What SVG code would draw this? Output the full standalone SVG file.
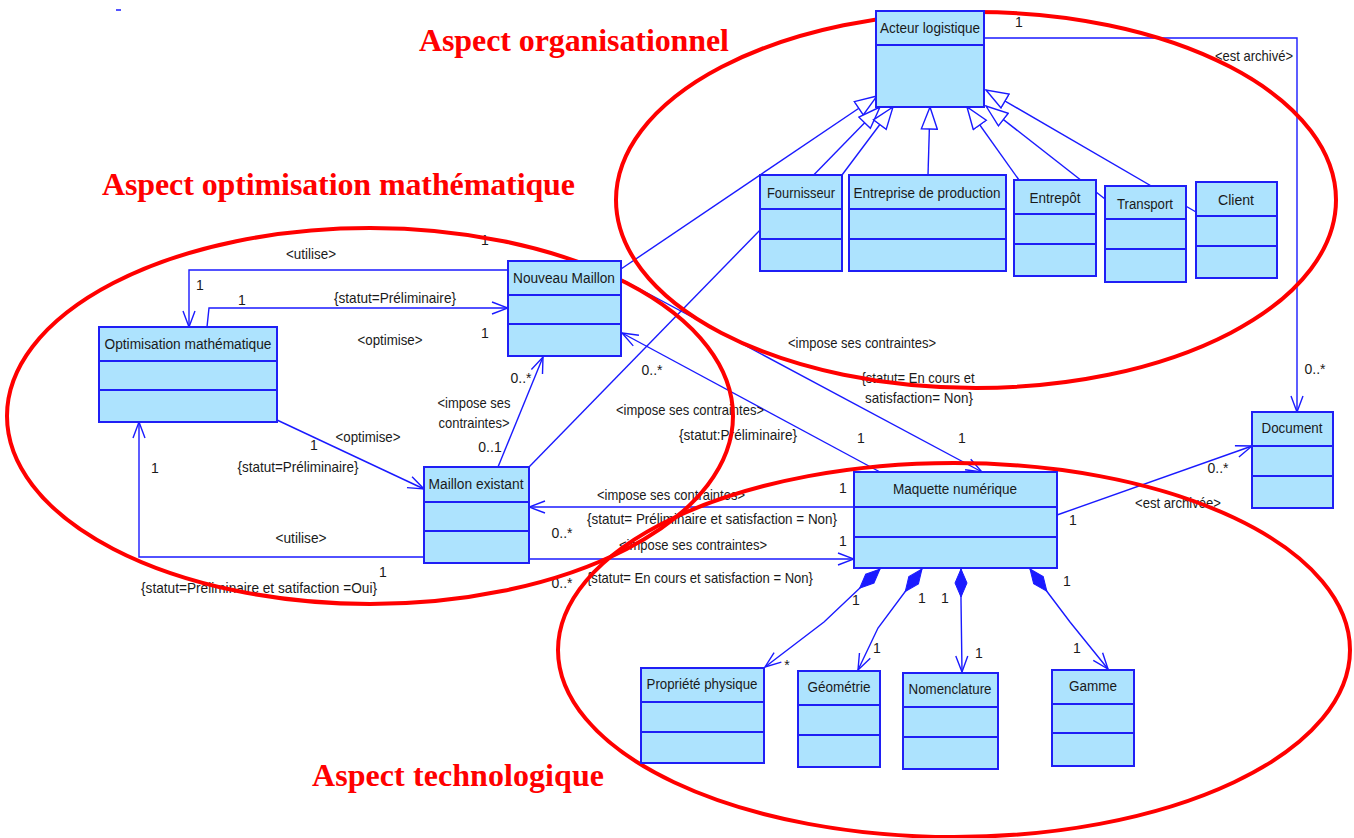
<svg xmlns="http://www.w3.org/2000/svg" width="1354" height="838" viewBox="0 0 1354 838">
<style>
.box{fill:#ade3fe;stroke:#1f1ff5;stroke-width:2}
.dv{stroke:#1f1ff5;stroke-width:2}
.nl{font-family:"Liberation Sans",Arial,sans-serif;font-size:15.5px;fill:#1a1a1a;text-anchor:middle}
.cl{font-family:"Liberation Sans",Arial,sans-serif;font-size:14.5px;fill:#1a1a1a;text-anchor:middle}
.n{font-family:"Liberation Sans",Arial,sans-serif;font-size:14px;fill:#1a1a1a;text-anchor:middle}
.c{fill:none;stroke:#1a1aff;stroke-width:1.4}
.ell{fill:none;stroke:#f00;stroke-width:4}
.title{font-family:"Liberation Serif","Times New Roman",serif;font-weight:bold;font-size:32px;fill:#f00}
</style>
<defs>
<marker id="arr" viewBox="-17 -7 18 14" refX="0" refY="0" markerWidth="18" markerHeight="14" orient="auto" markerUnits="userSpaceOnUse"><path d="M-16,-6 L0,0 L-16,6" fill="none" stroke="#1a1aff" stroke-width="1.4"/></marker>
<marker id="tri" viewBox="-23 -9 24 18" refX="0" refY="0" markerWidth="24" markerHeight="18" orient="auto" markerUnits="userSpaceOnUse"><path d="M0,0 L-22,-8 L-22,8 Z" fill="#fff" stroke="#1a1aff" stroke-width="1.4"/></marker>
<marker id="dia" viewBox="-1 -8 30 16" refX="0" refY="0" markerWidth="30" markerHeight="16" orient="auto" markerUnits="userSpaceOnUse"><path d="M0,0 L14,-6 L28,0 L14,6 Z" fill="#1a1aff" stroke="#1a1aff" stroke-width="1"/></marker>
</defs>
<rect width="1354" height="838" fill="#fff"/>
<line x1="116" y1="10" x2="121" y2="10" stroke="#1a1aff" stroke-width="1.5"/>

<g id="connectors">
<g class="gen" marker-end="url(#tri)">
<path class="c" d="M621,269 L877,96"/>
<path class="c" d="M529,467 L880,107"/>
<path class="c" d="M842,175 L893,107"/>
<path class="c" d="M928,175 L930,107"/>
<path class="c" d="M1019,180 L967,107"/>
<path class="c" d="M1105,199 L986,106"/>
<path class="c" d="M1196,212 L986,90"/>
</g>
<g class="assoc">
<path class="c" marker-end="url(#arr)" d="M508,270 L189,270 L189,327"/>
<path class="c" marker-end="url(#arr)" d="M207,327 L209,308 L508,308"/>
<path class="c" marker-end="url(#arr)" d="M277,420 L424,489"/>
<path class="c" marker-end="url(#arr)" d="M498,467 L543,357"/>
<path class="c" marker-end="url(#arr)" d="M880,472 L622,333"/>
<path class="c" marker-end="url(#arr)" d="M621,279 L982,472"/>
<path class="c" marker-end="url(#arr)" d="M854,507 L529,507"/>
<path class="c" marker-end="url(#arr)" d="M529,559 L854,559"/>
<path class="c" marker-end="url(#arr)" d="M424,557 L139,557 L139,422"/>
<path class="c" marker-end="url(#arr)" d="M1057,515 L1252,446"/>
<path class="c" marker-end="url(#arr)" d="M984,38 L1297,38 L1297,412"/>
</g>
<g class="comp">
<path class="c" marker-start="url(#dia)" marker-end="url(#arr)" d="M880,569 L824,622 L765,667"/>
<path class="c" marker-start="url(#dia)" marker-end="url(#arr)" d="M922,569 L878,628 L858,670"/>
<path class="c" marker-start="url(#dia)" marker-end="url(#arr)" d="M961,569 L961,600 L962,672"/>
<path class="c" marker-start="url(#dia)" marker-end="url(#arr)" d="M1030,569 L1070,622 L1108,669"/>
</g>
<g class="labels">
<text class="n" x="1019" y="27">1</text>
<text class="cl" x="1254" y="61" textLength="78" lengthAdjust="spacingAndGlyphs">&lt;est archivé&gt;</text>
<text class="n" x="1315" y="374">0..*</text>
<text class="cl" x="311" y="259" textLength="50" lengthAdjust="spacingAndGlyphs">&lt;utilise&gt;</text>
<text class="n" x="485" y="245">1</text>
<text class="n" x="200" y="290">1</text>
<text class="n" x="242" y="305">1</text>
<text class="cl" x="395" y="303" textLength="122" lengthAdjust="spacingAndGlyphs">{statut=Préliminaire}</text>
<text class="n" x="485" y="338">1</text>
<text class="cl" x="390" y="345" textLength="65" lengthAdjust="spacingAndGlyphs">&lt;optimise&gt;</text>
<text class="n" x="521" y="383">0..*</text>
<text class="cl" x="474" y="408" textLength="73" lengthAdjust="spacingAndGlyphs">&lt;impose ses</text>
<text class="cl" x="474" y="428" textLength="71" lengthAdjust="spacingAndGlyphs">contraintes&gt;</text>
<text class="n" x="490" y="452">0..1</text>
<text class="cl" x="368" y="442" textLength="65" lengthAdjust="spacingAndGlyphs">&lt;optimise&gt;</text>
<text class="n" x="314" y="450">1</text>
<text class="cl" x="298" y="472" textLength="121" lengthAdjust="spacingAndGlyphs">{statut=Préliminaire}</text>
<text class="n" x="155" y="473">1</text>
<text class="n" x="652" y="375">0..*</text>
<text class="cl" x="690" y="415" textLength="148" lengthAdjust="spacingAndGlyphs">&lt;impose ses contraintes&gt;</text>
<text class="cl" x="738" y="440" textLength="118" lengthAdjust="spacingAndGlyphs">{statut:Préliminaire}</text>
<text class="cl" x="862" y="348" textLength="148" lengthAdjust="spacingAndGlyphs">&lt;impose ses contraintes&gt;</text>
<text class="cl" x="918" y="383" textLength="113" lengthAdjust="spacingAndGlyphs">{statut= En cours et</text>
<text class="cl" x="919" y="403" textLength="108" lengthAdjust="spacingAndGlyphs">satisfaction= Non}</text>
<text class="n" x="861" y="443">1</text>
<text class="n" x="962" y="443">1</text>
<text class="n" x="843" y="493">1</text>
<text class="cl" x="671" y="500" textLength="148" lengthAdjust="spacingAndGlyphs">&lt;impose ses contraintes&gt;</text>
<text class="cl" x="712" y="524" textLength="250" lengthAdjust="spacingAndGlyphs">{statut= Préliminaire et satisfaction = Non}</text>
<text class="n" x="562" y="538">0..*</text>
<text class="n" x="843" y="546">1</text>
<text class="cl" x="693" y="550" textLength="148" lengthAdjust="spacingAndGlyphs">&lt;impose ses contraintes&gt;</text>
<text class="cl" x="700" y="583" textLength="226" lengthAdjust="spacingAndGlyphs">{statut= En cours et satisfaction = Non}</text>
<text class="n" x="562" y="588">0..*</text>
<text class="cl" x="301" y="543" textLength="51" lengthAdjust="spacingAndGlyphs">&lt;utilise&gt;</text>
<text class="n" x="383" y="577">1</text>
<text class="cl" x="259" y="593" textLength="236" lengthAdjust="spacingAndGlyphs">{statut=Préliminaire et satifaction =Oui}</text>
<text class="n" x="1218" y="473">0..*</text>
<text class="cl" x="1178" y="508" textLength="86" lengthAdjust="spacingAndGlyphs">&lt;est archivée&gt;</text>
<text class="n" x="1073" y="525">1</text>
<text class="n" x="856" y="605">1</text>
<text class="n" x="787" y="670">*</text>
<text class="n" x="922" y="603">1</text>
<text class="n" x="945" y="603">1</text>
<text class="n" x="877" y="653">1</text>
<text class="n" x="979" y="658">1</text>
<text class="n" x="1067" y="586">1</text>
<text class="n" x="1077" y="653">1</text>
</g>
</g>

<g id="regions">
<ellipse class="ell" cx="976" cy="200" rx="360" ry="188"/>
<ellipse class="ell" cx="370" cy="416" rx="363" ry="188"/>
<ellipse class="ell" cx="954" cy="650" rx="396" ry="187"/>
</g>

<g id="acteur-logistique"><rect class="box" x="876" y="11" width="108" height="96"/><line class="dv" x1="876" y1="45" x2="985" y2="45"/><text class="nl" x="930" y="33" textLength="100" lengthAdjust="spacingAndGlyphs">Acteur logistique</text></g>
<g id="fournisseur"><rect class="box" x="760" y="175" width="82" height="96"/><line class="dv" x1="760" y1="209" x2="843" y2="209"/><line class="dv" x1="760" y1="239" x2="843" y2="239"/><text class="nl" x="801" y="198" textLength="68" lengthAdjust="spacingAndGlyphs">Fournisseur</text></g>
<g id="entreprise-production"><rect class="box" x="849" y="175" width="157" height="96"/><line class="dv" x1="849" y1="209" x2="1007" y2="209"/><line class="dv" x1="849" y1="239" x2="1007" y2="239"/><text class="nl" x="927" y="198" textLength="147" lengthAdjust="spacingAndGlyphs">Entreprise de production</text></g>
<g id="entrepot"><rect class="box" x="1014" y="180" width="82" height="96"/><line class="dv" x1="1014" y1="214" x2="1097" y2="214"/><line class="dv" x1="1014" y1="244" x2="1097" y2="244"/><text class="nl" x="1055" y="203" textLength="51" lengthAdjust="spacingAndGlyphs">Entrepôt</text></g>
<g id="transport"><rect class="box" x="1105" y="186" width="81" height="96"/><line class="dv" x1="1105" y1="219" x2="1187" y2="219"/><line class="dv" x1="1105" y1="249" x2="1187" y2="249"/><text class="nl" x="1145" y="209" textLength="56" lengthAdjust="spacingAndGlyphs">Transport</text></g>
<g id="client"><rect class="box" x="1196" y="182" width="81" height="96"/><line class="dv" x1="1196" y1="216" x2="1278" y2="216"/><line class="dv" x1="1196" y1="246" x2="1278" y2="246"/><text class="nl" x="1236" y="205" textLength="36" lengthAdjust="spacingAndGlyphs">Client</text></g>
<g id="nouveau-maillon"><rect class="box" x="508" y="261" width="113" height="95"/><line class="dv" x1="508" y1="295" x2="622" y2="295"/><line class="dv" x1="508" y1="324" x2="622" y2="324"/><text class="nl" x="564" y="283" textLength="102" lengthAdjust="spacingAndGlyphs">Nouveau Maillon</text></g>
<g id="optimisation-mathematique"><rect class="box" x="99" y="327" width="178" height="95"/><line class="dv" x1="99" y1="361" x2="278" y2="361"/><line class="dv" x1="99" y1="390" x2="278" y2="390"/><text class="nl" x="188" y="349" textLength="167" lengthAdjust="spacingAndGlyphs">Optimisation mathématique</text></g>
<g id="maillon-existant"><rect class="box" x="424" y="467" width="105" height="96"/><line class="dv" x1="424" y1="502" x2="530" y2="502"/><line class="dv" x1="424" y1="531" x2="530" y2="531"/><text class="nl" x="476" y="489" textLength="95" lengthAdjust="spacingAndGlyphs">Maillon existant</text></g>
<g id="maquette-numerique"><rect class="box" x="854" y="472" width="203" height="96"/><line class="dv" x1="854" y1="507" x2="1058" y2="507"/><line class="dv" x1="854" y1="537" x2="1058" y2="537"/><text class="nl" x="955" y="494" textLength="124" lengthAdjust="spacingAndGlyphs">Maquette numérique</text></g>
<g id="document"><rect class="box" x="1252" y="412" width="81" height="96"/><line class="dv" x1="1252" y1="446" x2="1334" y2="446"/><line class="dv" x1="1252" y1="476" x2="1334" y2="476"/><text class="nl" x="1292" y="433" textLength="61" lengthAdjust="spacingAndGlyphs">Document</text></g>
<g id="propriete-physique"><rect class="box" x="641" y="668" width="123" height="95"/><line class="dv" x1="641" y1="702" x2="765" y2="702"/><line class="dv" x1="641" y1="732" x2="765" y2="732"/><text class="nl" x="702" y="689" textLength="111" lengthAdjust="spacingAndGlyphs">Propriété physique</text></g>
<g id="geometrie"><rect class="box" x="798" y="671" width="82" height="96"/><line class="dv" x1="798" y1="705" x2="881" y2="705"/><line class="dv" x1="798" y1="735" x2="881" y2="735"/><text class="nl" x="839" y="692" textLength="63" lengthAdjust="spacingAndGlyphs">Géométrie</text></g>
<g id="nomenclature"><rect class="box" x="903" y="673" width="95" height="96"/><line class="dv" x1="903" y1="707" x2="999" y2="707"/><line class="dv" x1="903" y1="737" x2="999" y2="737"/><text class="nl" x="950" y="694" textLength="83" lengthAdjust="spacingAndGlyphs">Nomenclature</text></g>
<g id="gamme"><rect class="box" x="1052" y="670" width="82" height="96"/><line class="dv" x1="1052" y1="704" x2="1135" y2="704"/><line class="dv" x1="1052" y1="733" x2="1135" y2="733"/><text class="nl" x="1093" y="691" textLength="48" lengthAdjust="spacingAndGlyphs">Gamme</text></g>

<g id="titles">
<text class="title" x="419" y="51" textLength="310">Aspect organisationnel</text>
<text class="title" x="102" y="195" textLength="473">Aspect optimisation mathématique</text>
<text class="title" x="312" y="786" textLength="292">Aspect technologique</text>
</g>
</svg>
